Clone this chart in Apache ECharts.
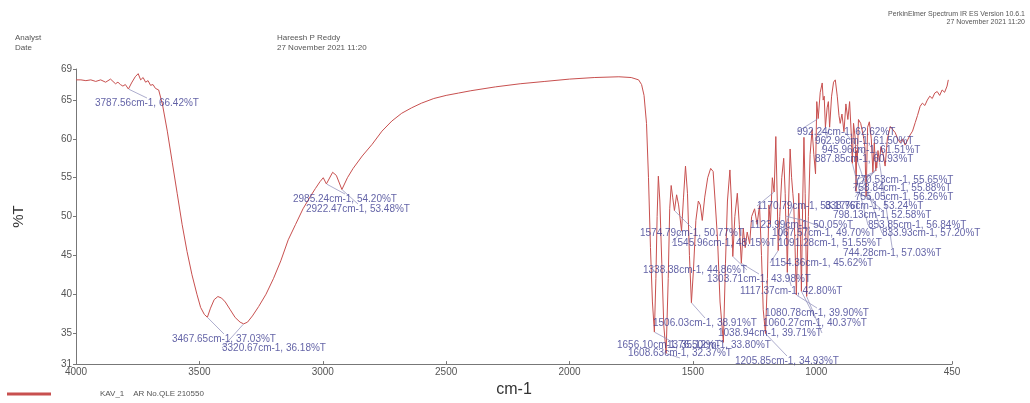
<!DOCTYPE html>
<html>
<head>
<meta charset="utf-8">
<script src="https://cdn.jsdelivr.net/npm/echarts@6/dist/echarts.min.js"></script>
<style>
html,body{margin:0;padding:0;background:#fff;}
#chart{width:1030px;height:403px;}
</style>
</head>
<body>
<div id="chart"></div>
<script>
// ---- data ----
const xTicks = [4000, 3500, 3000, 2500, 2000, 1500, 1000, 450];
const yTicks = [31, 35, 40, 45, 50, 55, 60, 65, 69];

const wavenumber = [
 4000,3980,3960,3940,3920,3900,3880,3860,3850,3840,3830,3820,3810,3800,3787.56,3775,3760,3748,3738,3728,3718,3708,3698,3688,3678,3665,
 3650,3630,3610,3590,3570,3550,3530,3510,3495,3480,3467.65,3455,3440,3425,3410,3395,3375,3355,3335,3320.67,3305,3285,3260,3230,3200,
 3170,3140,3110,3080,3050,3030,3011,2998,2985.24,2960,2945,2922.47,2900,2877,2840,2800,2760,2720,2680,2640,2600,2550,2500,2450,2400,
 2300,2200,2100,2000,1900,1800,1750,1720,1708,1698,1688,1680,1672,1664,1656.10,1650,1645,1640,1634,1626,1618,1608.63,1600,1594,1588,
 1582,1574.79,1566,1558,1545.96,1538,1530,1522,1514,1506.03,1498,1488,1478,1470,1462,1452,1440,1428,1418,1410,1400,1390,1376.50,1368,
 1360,1350,1344,1338.38,1330,1320,1312,1303.71,1296,1288,1280,1270,1262,1250,1240,1230,1222,1215,1205.85,1198,1192,1186,1178,1170.79,
 1164,1158,1154.36,1148,1140,1132,1126,1123.99,1120,1117.37,1112,1106,1100,1095,1091.28,1086,1080.78,1075,1071,1067.57,1064,1060.27,
 1055,1050,1045,1038.94,1032,1025,1017,1010,1003,998,992.24,984,976,972,968,962.96,956,951,945.96,938,930,923,915,908,903,896,887.85,
 880,872,865,858,853.85,849,842,838.76,836,833.93,829,820,810,803,798.13,792,785,777,770.53,765,758.84,757,755.05,750,744.28,738,730,
 721,712,700,690,680,670,660,650,640,632,620,610,599,590,579,570,560,550,540,530,520,510,500,490,480,470,465
];
const transmittance = [
 67.6,67.6,67.5,67.6,67.4,67.6,67.3,67.7,67.4,67.1,67.3,67.0,66.8,67.0,66.42,67.2,68.0,68.4,67.6,67.9,67.3,67.5,66.9,67.0,66.5,66.3,
 64.5,61.0,57.0,53.0,49.0,45.5,42.5,40.0,38.3,37.4,37.03,38.2,39.3,39.7,39.5,39.0,38.0,37.0,36.4,36.18,36.4,37.2,38.4,40.0,42.0,
 44.3,47.0,49.0,51.0,52.6,53.6,54.5,55.0,54.20,55.7,55.3,53.48,55.0,56.2,57.8,59.3,61.0,62.3,63.3,64.0,64.6,65.2,65.6,65.9,66.2,
 66.7,67.1,67.4,67.7,67.9,68.0,67.9,67.6,67.0,65.6,62.0,55.0,46.0,39.0,35.12,42.0,50.0,55.2,52.0,44.0,36.0,32.37,42.0,51.0,54.0,
 52.5,50.77,52.8,51.5,48.15,52.5,56.5,53.0,45.0,38.91,43.0,49.5,52.0,51.5,49.5,52.5,55.0,56.2,55.8,52.0,47.0,39.0,33.80,44.0,
 52.0,56.0,52.0,44.86,50.0,53.0,49.0,43.98,48.5,46.0,48.0,46.5,50.0,51.0,49.0,51.4,45.0,38.0,34.93,42.0,51.5,49.0,55.0,53.17,
 60.3,52.0,45.62,50.0,55.0,57.5,53.0,50.05,47.0,42.80,52.0,58.7,55.0,53.0,51.55,46.0,39.90,47.0,53.0,49.70,47.0,40.37,
 52.0,60.2,53.0,39.71,50.0,58.0,61.2,58.0,55.5,64.8,62.62,66.0,67.2,65.0,65.5,61.50,64.0,64.8,61.51,65.5,67.3,67.6,65.5,63.0,62.0,63.2,60.93,
 64.5,62.5,64.8,60.5,56.84,62.0,60.0,53.24,58.5,57.20,62.5,62.0,60.5,59.0,52.58,61.5,62.2,60.0,55.65,59.5,55.88,57.0,56.26,58.5,57.03,59.0,58.2,
 56.5,60.0,61.6,61.2,60.8,60.0,59.5,60.0,59.2,59.0,60.5,61.0,62.1,63.0,64.2,64.6,64.3,65.0,65.5,65.2,65.9,66.1,65.6,66.3,66.0,66.8,67.6
];

// annotated peaks (wavenumber, %T)
const peakWn = [3787.56,3467.65,3320.67,2985.24,2922.47,1656.10,1608.63,1574.79,1545.96,1506.03,1376.50,1338.38,1303.71,1205.85,
  1170.79,1154.36,1123.99,1117.37,1091.28,1080.78,1067.57,1060.27,1038.94,992.24,962.96,945.96,887.85,853.85,838.76,833.93,798.13,
  770.53,758.84,755.05,744.28];
const peakT = [66.42,37.03,36.18,54.20,53.48,35.12,32.37,50.77,48.15,38.91,33.80,44.86,43.98,34.93,
  53.17,45.62,50.05,42.80,51.55,39.90,49.70,40.37,39.71,62.62,61.50,61.51,60.93,56.84,53.24,57.20,52.58,
  55.65,55.88,56.26,57.03];

// layout: pixel position (left, middle) of each peak label
const labelPos = [[95,103],[172,339],[222,348],[293,199],[306,209],[617,345],[628,353],[640,233],[672,243],[653,323],[667,345],[643,270],[707,279],[735,361],
  [757,206],[770,263],[750,225],[740,291],[778,243],[765,313],[772,233],[763,323],[718,333],[797,132],[815,141],[822,150],[815,159],[868,225],[825,206],[882,233],[833,215],
  [855,180],[853,188],[855,197],[843,253]];

const seriesName = 'KAV_1    AR No.QLE 210550';
const lineColor = '#c8504f';

const chart = echarts.init(document.getElementById('chart'), null, {renderer: 'canvas'});
const smallTxt = {fontSize: 8, fontWeight: 'normal', color: '#555', fontFamily: 'Liberation Sans'};
const tinyTxt = {fontSize: 7, fontWeight: 'normal', color: '#555', fontFamily: 'Liberation Sans'};
const option = {
  animation: false,
  backgroundColor: '#fff',
  title: [
    {text: 'Analyst', left: 10, top: 29, textStyle: smallTxt},
    {text: 'Date', left: 10, top: 39, textStyle: smallTxt},
    {text: 'Hareesh P Reddy', left: 272, top: 29, textStyle: smallTxt},
    {text: '27 November 2021 11:20', left: 272, top: 39, textStyle: smallTxt},
    {text: 'PerkinElmer Spectrum IR ES Version 10.6.1', right: 0, top: 6, textStyle: tinyTxt},
    {text: '27 November 2021 11:20', right: 0, top: 14, textStyle: tinyTxt}
  ],
  legend: {
    data: [seriesName], left: 2, bottom: 0, icon: 'rect', itemWidth: 44, itemHeight: 3,
    textStyle: {fontSize: 8, color: '#555', fontFamily: 'Liberation Sans', padding: [0, 0, 0, 44]}
  },
  grid: {left: 76, right: 78, top: 69, bottom: 36},
  xAxis: {
    type: 'value', inverse: true, min: 450, max: 4000,
    name: 'cm-1', nameLocation: 'middle', nameGap: 15,
    nameTextStyle: {fontSize: 16, color: '#333', fontFamily: 'Liberation Sans'},
    axisLine: {lineStyle: {color: '#777'}},
    axisTick: {inside: true, length: 3, customValues: xTicks, lineStyle: {color: '#777'}},
    axisLabel: {customValues: xTicks, fontSize: 10, color: '#555', margin: 3, fontFamily: 'Liberation Sans', formatter: v => String(v)},
    splitLine: {show: false}
  },
  yAxis: {
    type: 'value', min: 31, max: 69,
    name: '%T', nameLocation: 'middle', nameGap: 50,
    nameTextStyle: {fontSize: 15, color: '#333', fontFamily: 'Liberation Sans'},
    axisLine: {show: true, lineStyle: {color: '#777'}},
    axisTick: {show: true, length: 3, customValues: yTicks, lineStyle: {color: '#777'}},
    axisLabel: {customValues: yTicks, fontSize: 10, color: '#555', margin: 4, fontFamily: 'Liberation Sans', formatter: v => String(v)},
    splitLine: {show: false}
  },
  series: [
    {
      name: seriesName, type: 'line', symbol: 'none', color: lineColor,
      data: wavenumber.map((w, i) => [w, transmittance[i]]),
      lineStyle: {color: lineColor, width: 1}, z: 3
    },
    {
      name: 'peaks', type: 'scatter', symbolSize: 1, itemStyle: {color: 'rgba(0,0,0,0)'}, silent: true, z: 4,
      data: peakWn.map((w, i) => [w, peakT[i]]),
      label: {
        show: true, fontSize: 10, color: '#3b3b90', fontFamily: 'Liberation Sans',
        formatter: p => p.value[0].toFixed(2) + 'cm-1, ' + p.value[1].toFixed(2) + '%T'
      },
      labelLayout: p => ({x: labelPos[p.dataIndex][0], y: labelPos[p.dataIndex][1], align: 'left', verticalAlign: 'middle'}),
      labelLine: {show: true, lineStyle: {color: '#8a8ab8', width: 0.7}}
    }
  ]
};
chart.setOption(option);
</script>
</body>
</html>
